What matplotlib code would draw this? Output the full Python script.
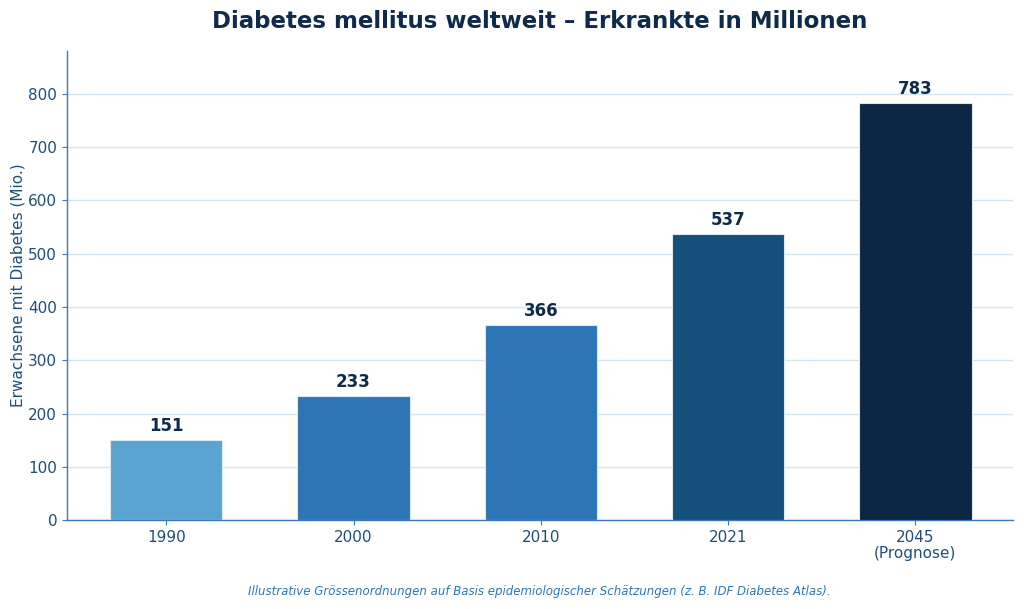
import matplotlib
matplotlib.use("Agg")
import matplotlib.pyplot as plt

categories = ["1990", "2000", "2010", "2021", "2045\n(Prognose)"]
values = [151, 233, 366, 537, 783]
colors = ["#5ba3d0", "#2e75b6", "#2e75b6", "#15507a", "#0c2644"]

title_color = "#0f2a4a"
tick_color = "#1f4e79"
spine_color = "#3a7ab8"

fig, ax = plt.subplots(figsize=(10.24, 6.09), dpi=100)
fig.subplots_adjust(left=0.0654, right=0.989, top=0.916, bottom=0.146)

x = list(range(len(categories)))
bars = ax.bar(x, values, width=0.6, color=colors, edgecolor="#dce8f2", linewidth=0.8, zorder=3)
for xi, v in zip(x, values):
    ax.text(xi, v + 9, f"{v}", ha="center", va="bottom", fontsize=12,
            fontweight="bold", color=title_color, zorder=4)

ax.set_xticks(x)
ax.set_xticklabels(categories, linespacing=1.1)
ax.set_ylim(0, 880)
ax.set_yticks(range(0, 801, 100))
ax.set_xlim(-0.53, 4.52)

ax.grid(axis="y", color="#d5e6f0", linewidth=1.0, zorder=0)
ax.set_axisbelow(True)
for s in ["top", "right"]:
    ax.spines[s].set_visible(False)
for s in ["left", "bottom"]:
    ax.spines[s].set_color(spine_color)
    ax.spines[s].set_linewidth(1.0)
ax.tick_params(axis="both", colors=spine_color, labelcolor=tick_color, labelsize=11)

ax.set_ylabel("Erwachsene mit Diabetes (Mio.)", fontsize=11, color=tick_color, labelpad=2)
ax.set_title("Diabetes mellitus weltweit – Erkrankte in Millionen", fontsize=16.5,
             fontweight="bold", color=title_color, pad=17)

fig.text(0.527, 0.028, "Illustrative Grössenordnungen auf Basis epidemiologischer Schätzungen (z. B. IDF Diabetes Atlas).",
         ha="center", va="center", fontsize=8.5, style="italic", color="#2e75b6")

fig.savefig("out.png", dpi=100)
